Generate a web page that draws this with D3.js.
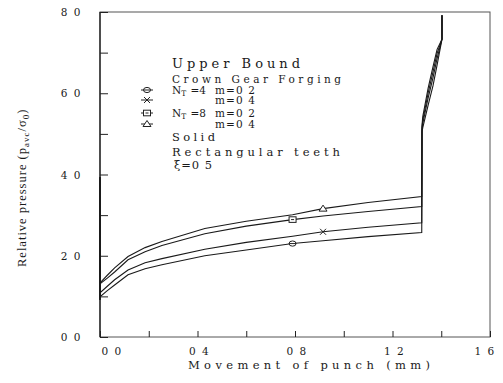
<!DOCTYPE html>
<html>
<head>
<meta charset="utf-8">
<script src="https://cdn.jsdelivr.net/npm/d3@7"></script>
<style>
  body { margin: 0; background: #fff; }
  .tick-label { font-family: 'DejaVu Serif', serif; font-size: 10.5px; fill: #1a1a1a; letter-spacing: 1.5px; }
  .legend { font-family: 'DejaVu Serif', serif; fill: #1a1a1a; }
</style>
</head>
<body>
<svg id="svg1" width="503" height="383"></svg>
<script>
// tick labels as printed (decimal points lost in the original scan)
const xTicks = [0, 0.4, 0.8, 1.2, 1.6];
const xTickLabels = ['0 0', '0 4', '0 8', '1 2', '1 6'];
const xMinorTicks = [0.2, 0.6, 1.0, 1.4];
const yTicks = [0, 2, 4, 6, 8];
const yTickLabels = ['0 0', '2 0', '4 0', '6 0', '8 0'];
const yMinorTicks = [1, 3, 5, 7];

// movement of punch (mm) for the smooth part of each curve
const movement = [0, 0.03, 0.06, 0.115, 0.185, 0.254, 0.43, 0.6, 0.79, 0.915, 1.1, 1.32];
// relative pressure
const nt4m02 = [0.99, 1.14, 1.28, 1.53, 1.68, 1.78, 2.00, 2.14, 2.30, 2.37, 2.47, 2.57];
const nt4m04 = [1.09, 1.25, 1.41, 1.65, 1.83, 1.93, 2.16, 2.33, 2.48, 2.59, 2.70, 2.81];
const nt8m02 = [1.31, 1.45, 1.60, 1.90, 2.10, 2.25, 2.54, 2.73, 2.89, 2.98, 3.09, 3.21];
const nt8m04 = [1.33, 1.52, 1.70, 1.98, 2.20, 2.35, 2.67, 2.85, 3.01, 3.16, 3.31, 3.46];

// initial spike at x = 0
const startX = [0, 0];
const startY = [3.93, 0.92];

// final die-filling rise
const spikeX = [1.321, 1.324, 1.346, 1.366, 1.383, 1.403, 1.403];
const spikeNt4m02 = [5.05, 5.15, 5.70, 6.18, 6.70, 7.33, 7.92];
const spikeNt4m04 = [5.10, 5.25, 5.88, 6.38, 6.86, 7.33, 7.92];
const spikeNt8m02 = [5.15, 5.33, 6.00, 6.52, 6.98, 7.33, 7.92];
const spikeNt8m04 = [5.20, 5.42, 6.12, 6.65, 7.08, 7.33, 7.92];

// marker placement (index into movement)
const seriesList = [
  { name: 'nt4m02', y: nt4m02, spike: spikeNt4m02, marker: 'circle', at: 8 },
  { name: 'nt4m04', y: nt4m04, spike: spikeNt4m04, marker: 'cross', at: 9 },
  { name: 'nt8m02', y: nt8m02, spike: spikeNt8m02, marker: 'square', at: 8 },
  { name: 'nt8m04', y: nt8m04, spike: spikeNt8m04, marker: 'triangle', at: 9 }
];

const svg = d3.select('#svg1');
const margin = { top: 12, right: 13, bottom: 46, left: 100 };
const width = +svg.attr('width');
const height = +svg.attr('height');
const innerWidth = width - margin.left - margin.right;
const innerHeight = height - margin.top - margin.bottom;

const xScale = d3.scaleLinear().domain([0, 1.6]).range([0, innerWidth]);
const yScale = d3.scaleLinear().domain([0, 8]).range([innerHeight, 0]);

const g = svg.append('g')
  .attr('transform', `translate(${margin.left},${margin.top})`);

// frame
g.append('rect')
  .attr('width', innerWidth).attr('height', innerHeight)
  .attr('fill', 'none').attr('stroke', '#555').attr('stroke-width', 1);
g.append('line')
  .attr('x1', 0).attr('x2', 0).attr('y1', 0).attr('y2', innerHeight)
  .attr('stroke', '#111').attr('stroke-width', 1.2);

// axes, ticks pointing inward
const xAxisG = g.append('g')
  .attr('transform', `translate(0,${innerHeight})`)
  .call(d3.axisBottom(xScale).tickValues(xTicks.concat(xMinorTicks))
    .tickSize(-6).tickFormat(() => ''));
xAxisG.select('.domain').remove();
xAxisG.selectAll('line').attr('stroke', '#222');

const yAxisG = g.append('g')
  .call(d3.axisLeft(yScale).tickValues(yTicks.concat(yMinorTicks))
    .tickSize(-8).tickFormat(() => ''));
yAxisG.select('.domain').remove();
yAxisG.selectAll('line').attr('stroke', '#222');

// tick labels
g.selectAll('.xlab').data(xTicks).enter().append('text')
  .attr('class', 'tick-label')
  .attr('x', (d, i) => xScale(d) + (i === 0 ? 12 : (i === xTicks.length - 1 ? -5 : 2)))
  .attr('y', innerHeight + 18)
  .attr('text-anchor', 'middle')
  .text((d, i) => xTickLabels[i]);

g.selectAll('.ylab').data(yTicks).enter().append('text')
  .attr('class', 'tick-label')
  .attr('x', -18)
  .attr('y', d => yScale(d) + 4)
  .attr('text-anchor', 'end')
  .text((d, i) => yTickLabels[i]);

// axis titles
svg.append('text')
  .attr('x', 188).attr('y', 369)
  .attr('textLength', 242).attr('lengthAdjust', 'spacing')
  .style('font-family', 'DejaVu Serif, serif')
  .style('font-size', '11.5px')
  .attr('fill', '#1a1a1a')
  .text('Movement of punch (mm)');

const yTitle = svg.append('text')
  .attr('transform', 'translate(26,267) rotate(-90)')
  .style('font-family', 'Liberation Serif, serif')
  .style('font-size', '12.5px')
  .style('letter-spacing', '1px')
  .attr('fill', '#1a1a1a');
yTitle.append('tspan').text('Relative  pressure  (p');
yTitle.append('tspan').attr('dy', 3).style('font-size', '9px').text('avc');
yTitle.append('tspan').attr('dy', -3).text('/σ');
yTitle.append('tspan').attr('dy', 3).style('font-size', '9px').text('0');
yTitle.append('tspan').attr('dy', -3).text(')');

// curves
const line = d3.line().x(d => xScale(d[0])).y(d => yScale(d[1]));

seriesList.forEach(s => {
  const pts = startX.map((x, i) => [x, startY[i]])
    .concat(movement.map((x, i) => [x, s.y[i]]))
    .concat(spikeX.map((x, i) => [x, s.spike[i]]));
  g.append('path')
    .datum(pts)
    .attr('d', line)
    .attr('fill', 'none')
    .attr('stroke', '#1a1a1a')
    .attr('stroke-width', 1.1);
});

// marker shapes
const drawMarker = (sel, type, cx, cy) => {
  if (type === 'circle') {
    sel.append('ellipse').attr('cx', cx).attr('cy', cy).attr('rx', 3.5).attr('ry', 2.6)
      .attr('fill', '#fff').attr('stroke', '#222');
    sel.append('line').attr('x1', cx - 3.5).attr('x2', cx + 3.5).attr('y1', cy).attr('y2', cy)
      .attr('stroke', '#222');
  } else if (type === 'square') {
    sel.append('rect').attr('x', cx - 3.5).attr('y', cy - 2.8).attr('width', 7).attr('height', 5.6)
      .attr('fill', '#fff').attr('stroke', '#222');
    sel.append('line').attr('x1', cx - 1.5).attr('x2', cx + 1.5).attr('y1', cy).attr('y2', cy)
      .attr('stroke', '#222');
  } else if (type === 'triangle') {
    sel.append('path')
      .attr('d', `M${cx - 4},${cy + 2.5}L${cx},${cy - 3.5}L${cx + 4},${cy + 2.5}Z`)
      .attr('fill', '#fff').attr('stroke', '#222');
  } else {
    sel.append('path')
      .attr('d', `M${cx - 3},${cy - 3}L${cx + 3},${cy + 3}M${cx - 3},${cy + 3}L${cx + 3},${cy - 3}`)
      .attr('fill', 'none').attr('stroke', '#222');
  }
};

seriesList.forEach(s => {
  drawMarker(g.append('g'), s.marker, xScale(movement[s.at]), yScale(s.y[s.at]));
});

// legend block
const legendRows = [
  { marker: 'circle', y: 90 },
  { marker: 'cross', y: 100 },
  { marker: 'square', y: 113 },
  { marker: 'triangle', y: 124 }
];
legendRows.forEach(r => {
  const lg = svg.append('g');
  lg.append('line').attr('x1', 141).attr('x2', 153).attr('y1', r.y).attr('y2', r.y)
    .attr('stroke', '#222');
  drawMarker(lg, r.marker, 147, r.y);
});

const addText = (x, y, size, len, txt) => {
  const t = svg.append('text')
    .attr('class', 'legend')
    .attr('x', x).attr('y', y)
    .style('font-size', size + 'px')
    .text(txt);
  if (len) t.attr('textLength', len).attr('lengthAdjust', 'spacing');
  return t;
};

addText(172, 68, 13, 128, 'Upper Bound');
addText(172, 83, 10.5, 169, 'Crown Gear Forging');

const nt = (x, y, val) => {
  const t = svg.append('text').attr('class', 'legend')
    .attr('x', x).attr('y', y).style('font-size', '10.5px');
  t.append('tspan').text('N');
  t.append('tspan').attr('dy', 2).style('font-size', '7.5px').text('T');
  t.append('tspan').attr('dy', -2).attr('dx', 1).text(' =' + val);
};
nt(172, 94, '4');
addText(215, 94, 10.5, 40, 'm=0 2');
addText(215, 104, 10.5, 40, 'm=0 4');
nt(172, 117, '8');
addText(215, 117, 10.5, 40, 'm=0 2');
addText(215, 128, 10.5, 40, 'm=0 4');
addText(172, 141, 11.5, 43, 'Solid');
addText(172, 156, 11.5, 168, 'Rectangular teeth');
addText(174, 169, 11.5, 38, 'ξ=0 5');
</script>
</body>
</html>
